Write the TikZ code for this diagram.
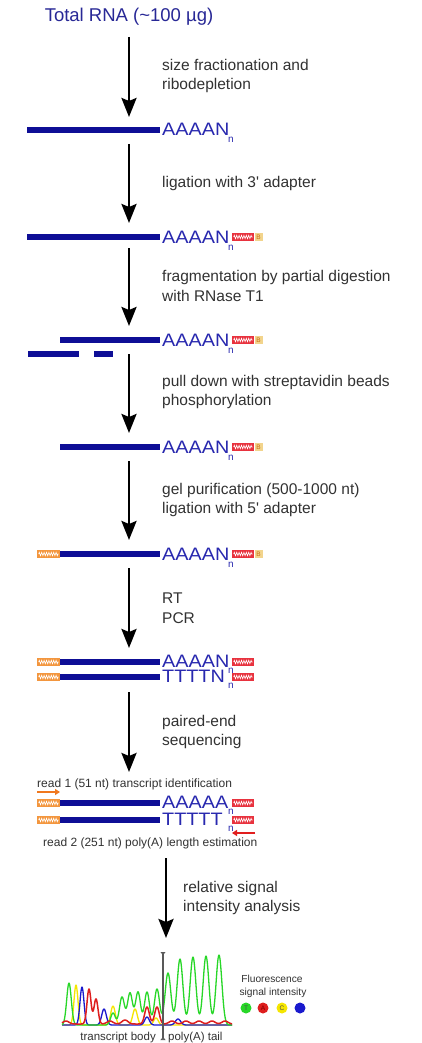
\documentclass[tikz,border=0pt]{standalone}
\usepackage{fontspec}
\setmainfont{Liberation Sans}
\newfontfamily\seqfont[FakeStretch=1.1]{Liberation Sans}
\usetikzlibrary{arrows.meta,decorations.pathmorphing}

\definecolor{navy}{RGB}{14,14,150}
\definecolor{seqblue}{RGB}{40,40,175}
\definecolor{titleblue}{RGB}{40,40,150}
\definecolor{labelgray}{RGB}{50,50,50}
\definecolor{adred}{RGB}{232,50,62}
\definecolor{adorange}{RGB}{243,150,62}
\definecolor{biotin}{RGB}{242,212,140}
\definecolor{biotext}{RGB}{200,110,20}
\definecolor{tgreen}{RGB}{40,215,40}
\definecolor{tyellow}{RGB}{245,230,0}
\definecolor{tblue}{RGB}{25,25,205}
\definecolor{tred}{RGB}{222,30,30}
\definecolor{readorange}{RGB}{240,120,30}
\definecolor{readred}{RGB}{225,30,30}

\begin{document}
\begin{tikzpicture}[x=1pt,y=-1pt,
  declare function={pk(\xx,\ctr,\hgt,\wid)=\hgt*exp(-min(((\xx-\ctr)/\wid)*((\xx-\ctr)/\wid)/2,10));},
  rnabar/.style={line width=6pt, draw=navy},
  flow/.style={line width=2.7pt, draw=black, -{Stealth[width=15pt,length=19pt,inset=3pt]}},
  lab/.style={anchor=west, align=left, inner sep=0, text=labelgray, font=\fontsize{15.5}{19.5}\selectfont},
  seq/.style={anchor=base west, inner sep=0, text=seqblue, text height=12.8pt, text depth=0pt,
    font=\seqfont\fontsize{18}{20}\selectfont},
  sub/.style={anchor=base west, inner sep=0, text=seqblue, text height=5.5pt, text depth=0pt,
    font=\fontsize{10}{10}\selectfont},
  adapter/.style={anchor=west, minimum height=7.5pt, inner sep=0,
    path picture={\draw[white, line width=0.6pt, decorate,
      decoration={zigzag, segment length=2.4pt, amplitude=1.7pt}]
      ([xshift=1.5pt]path picture bounding box.west) -- ([xshift=-1.5pt]path picture bounding box.east);}},
  redad/.style={adapter, fill=adred, minimum width=22pt},
  orad/.style={adapter, fill=adorange, minimum width=23pt},
  bio/.style={anchor=west, minimum width=8pt, minimum height=7.5pt, inner sep=0, fill=biotin,
    text=biotext, font=\fontsize{6.5}{7}\selectfont},
  readlab/.style={anchor=west, inner sep=0, text=labelgray, font=\fontsize{12}{14}\selectfont},
  trace/.style={line width=1.3pt, line join=round},
  dot/.style={circle, minimum size=11pt, inner sep=0, font=\fontsize{6.5}{6.5}\selectfont}]

\fill[white] (0,0) rectangle (421,1043);
\useasboundingbox (0,0) rectangle (421,1043);

% starting material
\node[text=titleblue, font=\fontsize{18.5}{20}\selectfont, inner sep=0] (title) at (129,17) {Total RNA (\textasciitilde100 µg)};

% process arrows
\coordinate (a1s) at (129,37);  \coordinate (a1e) at (129,117);
\coordinate (a2s) at (129,144); \coordinate (a2e) at (129,223);
\coordinate (a3s) at (129,248); \coordinate (a3e) at (129,326);
\coordinate (a4s) at (129,354); \coordinate (a4e) at (129,433);
\coordinate (a5s) at (129,461); \coordinate (a5e) at (129,540);
\coordinate (a6s) at (129,568); \coordinate (a6e) at (129,648);
\coordinate (a7s) at (129,692); \coordinate (a7e) at (129,772);
\coordinate (a8s) at (166,858); \coordinate (a8e) at (166,938);
\foreach \i in {1,...,8} \draw[flow] (a\i s) -- (a\i e);

% step labels
\node[lab] (l1) at (162,76) {size fractionation and\\ribodepletion};
\node[lab] (l2) at (162,183) {ligation with 3\textquotesingle\ adapter};
\node[lab] (l3) at (162,286) {fragmentation by partial digestion\\with RNase T1};
\node[lab] (l4) at (162,392) {pull down with streptavidin beads\\phosphorylation};
\node[lab] (l5) at (162,500) {gel purification (500-1000 nt)\\ligation with 5\textquotesingle\ adapter};
\node[lab] (l6) at (162,608) {RT\\PCR};
\node[lab] (l7) at (162,732) {paired-end\\sequencing};
\node[lab] (l8) at (183,898) {relative signal\\intensity analysis};

% row 1: poly(A) RNA
\draw[rnabar] (27,130) -- (160,130);
\node[seq] (s1) at (162,136) {AAAAN};
\node[sub] (n1) at (228,143) {n};

% row 2: 3' adapter ligated
\draw[rnabar] (27,237) -- (160,237);
\node[seq] (s2) at (162,243) {AAAAN};
\node[sub] (n2) at (228,250) {n};
\node[redad] (r2) at (232,237) {};
\node[bio] (b2) at (r2.east) {B};

% row 3: partial digestion
\draw[rnabar] (60,340) -- (160,340);
\draw[rnabar] (28,354) -- (79,354);
\draw[rnabar] (94,354) -- (113,354);
\node[seq] (s3) at (162,346) {AAAAN};
\node[sub] (n3) at (228,353) {n};
\node[redad] (r3) at (232,340) {};
\node[bio] (b3) at (r3.east) {B};

% row 4: pulled-down fragment
\draw[rnabar] (60,447) -- (160,447);
\node[seq] (s4) at (162,453) {AAAAN};
\node[sub] (n4) at (228,460) {n};
\node[redad] (r4) at (232,447) {};
\node[bio] (b4) at (r4.east) {B};

% row 5: 5' adapter ligated
\node[orad] (o5) at (37,554) {};
\draw[rnabar] (60,554) -- (160,554);
\node[seq] (s5) at (162,560) {AAAAN};
\node[sub] (n5) at (228,567) {n};
\node[redad] (r5) at (232,554) {};
\node[bio] (b5) at (r5.east) {B};

% row 6: double-stranded library
\node[orad] (o6a) at (37,662) {};
\draw[rnabar] (60,662) -- (160,662);
\node[seq] (s6a) at (162,667) {AAAAN};
\node[sub] (n6a) at (228,673) {n};
\node[redad] (r6a) at (232,662) {};
\node[orad] (o6b) at (37,677) {};
\draw[rnabar] (60,677) -- (160,677);
\node[seq] (s6b) at (162,682) {TTTTN};
\node[sub] (n6b) at (228,688) {n};
\node[redad] (r6b) at (232,677) {};

% row 7: paired-end reads
\node[readlab] (rd1) at (37,784) {read 1 (51 nt) transcript identification};
\coordinate (rd1s) at (37,792); \coordinate (rd1e) at (60,792);
\draw[readorange, line width=2pt, -{Triangle[width=6pt,length=5pt]}] (rd1s) -- (rd1e);
\node[orad] (o7a) at (37,803) {};
\draw[rnabar] (60,803) -- (160,803);
\node[seq] (s7a) at (162,808) {AAAAA};
\node[sub] (n7a) at (228,814) {n};
\node[redad] (r7a) at (232,803) {};
\node[orad] (o7b) at (37,820) {};
\draw[rnabar] (60,820) -- (160,820);
\node[seq] (s7b) at (162,825) {TTTTT};
\node[sub] (n7b) at (228,831) {n};
\node[redad] (r7b) at (232,820) {};
\coordinate (rd2s) at (255,833); \coordinate (rd2e) at (232,833);
\draw[readred, line width=2pt, -{Triangle[width=6pt,length=5pt]}] (rd2s) -- (rd2e);
\node[readlab] (rd2) at (43,843) {read 2 (251 nt) poly(A) length estimation};

% chromatogram traces
\draw[trace, tyellow] plot[domain=62:232, samples=341]
  (\x, {1025 - pk(\x,76,40,2.0) - pk(\x,113,19,2.3) - pk(\x,135,16,2.3) - pk(\x,156,7,2.3)});
\draw[trace, tblue] plot[domain=62:232, samples=341]
  (\x, {1025 - pk(\x,82,38,2.0) - pk(\x,104,16,2.3) - pk(\x,147,8,2.3) - pk(\x,178,6,2.6)});
\draw[trace, tgreen] plot[domain=62:232, samples=341]
  (\x, {1025 - pk(\x,69,42,2.3) - pk(\x,113,12,2.3) - pk(\x,122,28,2.5) - pk(\x,130,32,2.5)
        - pk(\x,138,33,2.5) - pk(\x,147,33,2.5) - pk(\x,157,36,2.6) - pk(\x,168,52,2.9)
        - pk(\x,180,66,2.9) - pk(\x,193,68,2.9) - pk(\x,206,69,2.9) - pk(\x,219,70,2.9)});
\draw[trace, tred, line width=1.5pt] plot[domain=62:232, samples=341]
  (\x, {1024 - pk(\x,66,3,3) - pk(\x,89,35,2.0) - pk(\x,96,25,2.0) - pk(\x,110,3,3)
        - pk(\x,125,4,3) - pk(\x,147,17,2.3) - pk(\x,157,17,2.3) - pk(\x,172,3,3)
        - pk(\x,186,3,3) - pk(\x,199,3,3) - pk(\x,212,3,3) - pk(\x,225,3,3)});

% boundary between transcript body and poly(A) tail
\coordinate (mt) at (163,952); \coordinate (mb) at (163,1040);
\draw[line width=1.3pt, black!65,
  {Triangle[reversed,width=5pt,length=3pt]}-{Triangle[reversed,width=5pt,length=3pt]}] (mt) -- (mb);
\node[anchor=east, inner sep=0, text=labelgray, font=\fontsize{11.5}{12}\selectfont] (tb) at (156,1038) {transcript body};
\node[anchor=west, inner sep=0, text=labelgray, font=\fontsize{11.5}{12}\selectfont] (pa) at (168,1038) {poly(A) tail};

% legend
\node[inner sep=0, text=labelgray, font=\fontsize{10.2}{12}\selectfont] (lg1) at (272,979) {Fluorescence};
\node[inner sep=0, text=labelgray, font=\fontsize{10.2}{12}\selectfont] (lg2) at (273,993) {signal intensity};
\node[dot, fill=tgreen, text=black!70] (dT) at (246,1008) {T};
\node[dot, fill=tred, text=red!50!black] (dA) at (263,1008) {A};
\node[dot, fill=tyellow, text=black!70] (dC) at (282,1008) {C};
\node[dot, fill=tblue] (dG) at (300,1008) {};
\end{tikzpicture}
\end{document}
